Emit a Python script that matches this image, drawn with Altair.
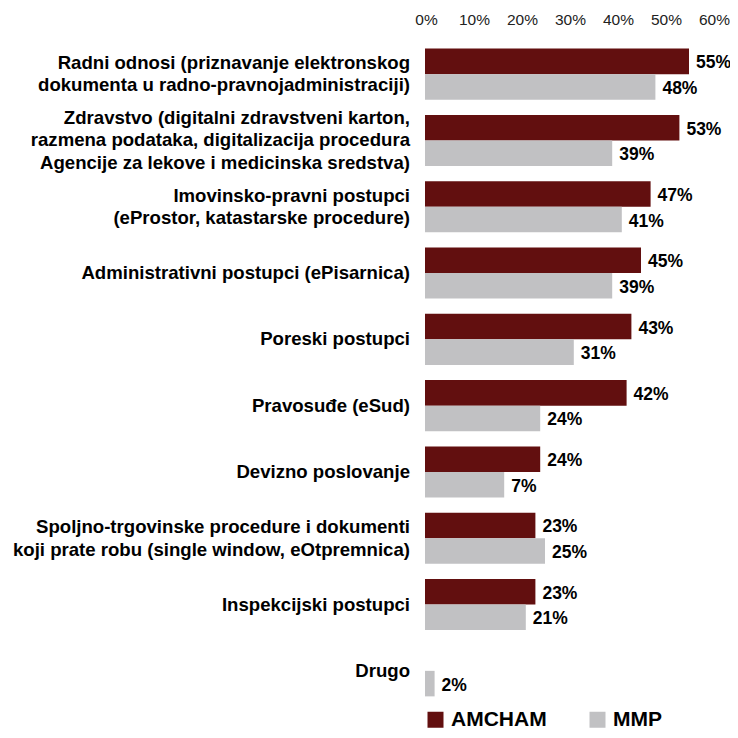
import altair as alt
import pandas as pd

categories = [
    "Radni odnosi (priznavanje elektronskog|dokumenta u radno-pravnojadministraciji)",
    "Zdravstvo (digitalni zdravstveni karton,|razmena podataka, digitalizacija procedura|Agencije za lekove i medicinska sredstva)",
    "Imovinsko-pravni postupci|(eProstor, katastarske procedure)",
    "Administrativni postupci (ePisarnica)",
    "Poreski postupci",
    "Pravosuđe (eSud)",
    "Devizno poslovanje",
    "Spoljno-trgovinske procedure i dokumenti|koji prate robu (single window, eOtpremnica)",
    "Inspekcijski postupci",
    "Drugo",
]
series = ["AMCHAM", "MMP"]
amcham_values = [55, 53, 47, 45, 43, 42, 24, 23, 23, None]
amcham_labels = ["55%", "53%", "47%", "45%", "43%", "42%", "24%", "23%", "23%", None]
mmp_values = [48, 39, 41, 39, 31, 24, 16.5, 25, 21, 2]
mmp_labels = ["48%", "39%", "41%", "39%", "31%", "24%", "7%", "25%", "21%", "2%"]
tick_values = [0, 10, 20, 30, 40, 50, 60]
colors = ["#620F0F", "#C1C1C3"]

rows = []
for c, v, l in zip(categories, amcham_values, amcham_labels):
    if v is not None:
        rows.append({"cat": c, "series": "AMCHAM", "value": v, "label": l})
for c, v, l in zip(categories, mmp_values, mmp_labels):
    if v is not None:
        rows.append({"cat": c, "series": "MMP", "value": v, "label": l})
df = pd.DataFrame(rows)

cat_df = pd.DataFrame({"cat": categories, "nlines": [c.count("|") + 1 for c in categories]})

FONT = "Liberation Sans"
LH = 22.5

y_scale = alt.Scale(domain=categories, paddingInner=0.23, paddingOuter=0.115)

y_enc = alt.Y(
    "cat:N",
    sort=categories,
    scale=y_scale,
    axis=None,
)
x_enc = alt.X(
    "value:Q",
    scale=alt.Scale(domain=[0, 60], nice=False, zero=True),
    axis=alt.Axis(
        orient="top",
        title=None,
        values=tick_values,
        labelExpr="datum.value + '%'",
        labelFontSize=15.5,
        labelFont=FONT,
        labelColor="#222222",
        labelPadding=14,
        labelOffset=1,
        labelOverlap=False,
        labelFlush=False,
        domain=False,
        ticks=False,
        grid=False,
    ),
)
yoff = alt.YOffset("series:N", scale=alt.Scale(domain=series, paddingInner=0, paddingOuter=0))

bars = alt.Chart(df).mark_bar().encode(
    x=x_enc,
    y=y_enc,
    yOffset=yoff,
    color=alt.Color(
        "series:N",
        scale=alt.Scale(domain=series, range=colors),
        legend=alt.Legend(
            title=None,
            orient="none",
            legendX=0,
            legendY=668,
            direction="horizontal",
            symbolType="square",
            symbolSize=256,
            symbolStrokeWidth=0,
            labelFontSize=21,
            labelFont=FONT,
            labelFontWeight="bold",
            labelColor="#000000",
            labelOffset=5,
            columnPadding=40,
        ),
    ),
)

texts = alt.Chart(df).mark_text(
    align="left", baseline="middle", dx=7, dy=2,
    fontSize=17.5, font=FONT, fontWeight="bold", color="#000000",
).encode(
    x=alt.X("value:Q"),
    y=alt.Y("cat:N", sort=categories),
    yOffset=alt.YOffset("series:N"),
    text="label:N",
)

cat_layers = []
for n in [1, 2, 3]:
    cat_layers.append(
        alt.Chart(cat_df).transform_filter(alt.datum.nlines == n).mark_text(
            align="right", baseline="middle", lineBreak="|", lineHeight=LH,
            dy=-(n - 1) * LH / 2,
            fontSize=18.6, font=FONT, fontWeight="bold", color="#000000",
        ).encode(
            x=alt.value(-15),
            y=alt.Y("cat:N", sort=categories),
            text="cat:N",
        )
    )

chart = alt.layer(bars, texts, *cat_layers).properties(
    width=288,
    height=663,
    autosize=alt.AutoSizeParams(type="none"),
    padding={"left": 417, "top": 33, "right": 17, "bottom": 26},
).configure_view(stroke=None)

chart.save("out.html", embed_options={"renderer": "svg", "actions": False})
